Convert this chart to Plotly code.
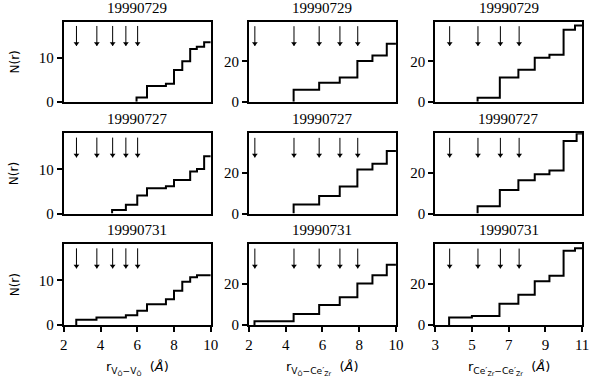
import plotly.graph_objects as go

W, H = 597, 388

# ---------------- data ----------------
titles_rows = ["19990729", "19990727", "19990731"]

x_ranges = [[2, 10], [2, 10], [3, 11]]
y_ranges = [[0, 18.2], [0, 39.7], [0, 39.7]]
x_ticks = [[2, 4, 6, 8, 10], [2, 4, 6, 8, 10], [3, 5, 7, 9, 11]]
y_ticks = [[0, 10], [0, 20], [0, 20]]

arrows_vv = [2.69, 3.80, 4.66, 5.38, 6.02]
arrows_vce = [2.32, 4.45, 5.82, 6.95, 7.92]
arrows_cece = [3.79, 5.33, 6.55, 7.57]
arrow_tops = [17.2, 37.4, 37.4]
arrow_tips = [12.7, 27.7, 27.7]

# N(r) step data: [row][col] -> (r, N)
r_vv_29 = [5.96, 6.53, 7.56, 8.0, 8.45, 8.88, 9.24, 9.64]
n_vv_29 = [1.0, 3.6, 4.1, 7.2, 9.2, 12.0, 12.5, 13.5]
r_vv_27 = [4.63, 5.38, 6.0, 6.53, 7.56, 8.0, 8.88, 9.25, 9.64]
n_vv_27 = [0.8, 2.0, 4.1, 5.7, 6.2, 7.6, 9.5, 10.1, 13.0]
r_vv_31 = [2.68, 3.78, 5.38, 6.0, 6.53, 7.56, 8.0, 8.45, 8.88, 9.25]
n_vv_31 = [1.2, 1.7, 2.2, 3.2, 4.7, 5.8, 7.7, 9.7, 10.7, 11.2]

r_vce_29 = [4.43, 5.82, 6.94, 7.90, 8.72, 9.5]
n_vce_29 = [6.0, 9.4, 12.1, 20.2, 22.9, 28.7]
r_vce_27 = [4.43, 5.82, 6.94, 7.90, 8.72, 9.5]
n_vce_27 = [4.4, 8.6, 13.4, 21.7, 24.6, 30.9]
r_vce_31 = [2.3, 4.43, 5.82, 6.94, 7.90, 8.72, 9.5]
n_vce_31 = [1.9, 5.5, 9.8, 13.6, 20.3, 24.4, 29.5]

r_cece_29 = [5.31, 6.52, 7.53, 8.42, 9.22, 9.99, 10.61]
n_cece_29 = [2.0, 12.0, 15.9, 21.8, 23.3, 35.6, 37.7]
r_cece_27 = [5.31, 6.52, 7.53, 8.42, 9.22, 9.99, 10.7]
n_cece_27 = [3.6, 11.6, 16.4, 19.4, 21.3, 35.8, 39.5]
r_cece_31 = [3.76, 5.0, 6.5, 7.53, 8.42, 9.22, 9.99, 10.61]
n_cece_31 = [3.7, 4.5, 10.5, 14.9, 21.5, 24.1, 36.3, 37.6]

series = [
    [(r_vv_29, n_vv_29), (r_vce_29, n_vce_29), (r_cece_29, n_cece_29)],
    [(r_vv_27, n_vv_27), (r_vce_27, n_vce_27), (r_cece_27, n_cece_27)],
    [(r_vv_31, n_vv_31), (r_vce_31, n_vce_31), (r_cece_31, n_cece_31)],
]
arrows = [arrows_vv, arrows_vce, arrows_cece]

x_titles = [
    "r<sub>V<sub>Ö</sub>−V<sub>Ö</sub></sub>  (<i>Å</i>)",
    "r<sub>V<sub>Ö</sub>−Ce′<sub>Zr</sub></sub>  (<i>Å</i>)",
    "r<sub>Ce′<sub>Zr</sub>−Ce′<sub>Zr</sub></sub>  (<i>Å</i>)",
]

# ---------------- layout geometry (pixels) ----------------
col_px = [(61, 211), (250, 400), (440, 590)]
row_px = [(22, 104), (136, 218), (249, 332)]

SERIF = "Liberation Serif, serif"
SANS = "DejaVu Sans, sans-serif"

fig = go.Figure()
annotations = []
layout = {}

for i in range(3):
    for j in range(3):
        k = i * 3 + j + 1
        xname = "xaxis" if k == 1 else f"xaxis{k}"
        yname = "yaxis" if k == 1 else f"yaxis{k}"
        xref = "x" if k == 1 else f"x{k}"
        yref = "y" if k == 1 else f"y{k}"
        x0, x1 = col_px[j]
        y0, y1 = row_px[i]
        bottom = i == 2
        layout[xname] = dict(
            domain=[x0 / W, x1 / W], anchor=yref, range=x_ranges[j],
            showline=True, mirror=True, linecolor="black", linewidth=2,
            showgrid=False, zeroline=False,
            ticks="outside" if bottom else "", ticklen=5, tickwidth=1.5, tickcolor="black",
            tickvals=x_ticks[j], showticklabels=bottom,
            tickfont=dict(family=SERIF, size=15, color="black"),
        )
        layout[yname] = dict(
            domain=[(H - y1) / H, (H - y0) / H], anchor=xref, range=y_ranges[j],
            showline=True, mirror=True, linecolor="black", linewidth=2,
            showgrid=False, zeroline=False,
            ticks="outside", ticklen=5, tickwidth=1.5, tickcolor="black",
            tickvals=y_ticks[j],
            tickfont=dict(family=SERIF, size=15, color="black"),
        )
        r, n = series[i][j]
        xs = [r[0]] + list(r) + [x_ranges[j][1]]
        ys = [0] + list(n) + [n[-1]]
        fig.add_trace(go.Scatter(x=xs, y=ys, mode="lines", line=dict(color="black", width=2, shape="hv"),
                                 xaxis=xref, yaxis=yref, showlegend=False, hoverinfo="skip",
                                 cliponaxis=False))
        # arrows: shafts + heads
        ax_x, ax_y = [], []
        for a in arrows[j]:
            ax_x += [a, a, None]
            ax_y += [arrow_tops[j], arrow_tips[j], None]
        fig.add_trace(go.Scatter(x=ax_x, y=ax_y, mode="lines", line=dict(color="black", width=1),
                                 xaxis=xref, yaxis=yref, showlegend=False, hoverinfo="skip"))
        head_off = (y_ranges[j][1] - y_ranges[j][0]) * 0.03
        fig.add_trace(go.Scatter(x=arrows[j], y=[arrow_tips[j] + head_off] * len(arrows[j]), mode="markers",
                                 marker=dict(symbol="triangle-down", size=5, color="black", line=dict(width=0)),
                                 xaxis=xref, yaxis=yref, showlegend=False, hoverinfo="skip"))
        # subplot title
        annotations.append(dict(
            text=titles_rows[i], x=(x0 + x1) / 2 / W, y=(H - y0) / H, xref="paper", yref="paper",
            xanchor="center", yanchor="bottom", yshift=4, showarrow=False,
            font=dict(family=SERIF, size=15, color="black")))
    # y title
    y0, y1 = row_px[i]
    annotations.append(dict(
        text="N(r)", x=11 / W, y=(H - (y0 + y1) / 2) / H, xref="paper", yref="paper",
        xanchor="center", yanchor="middle", textangle=-90, showarrow=False,
        font=dict(family=SANS, size=12, color="black")))

for j in range(3):
    x0, x1 = col_px[j]
    annotations.append(dict(
        text=x_titles[j], x=(x0 + x1) / 2 / W, y=(H - 376) / H, xref="paper", yref="paper",
        xanchor="center", yanchor="middle", showarrow=False,
        font=dict(family=SANS, size=13, color="black")))

fig.update_layout(
    width=W, height=H, margin=dict(l=0, r=0, t=0, b=0),
    paper_bgcolor="white", plot_bgcolor="white",
    annotations=annotations, **layout,
)

fig.write_html("out.html", config={"displayModeBar": False},
               post_script="document.body.style.margin='0';document.body.style.padding='0';")
